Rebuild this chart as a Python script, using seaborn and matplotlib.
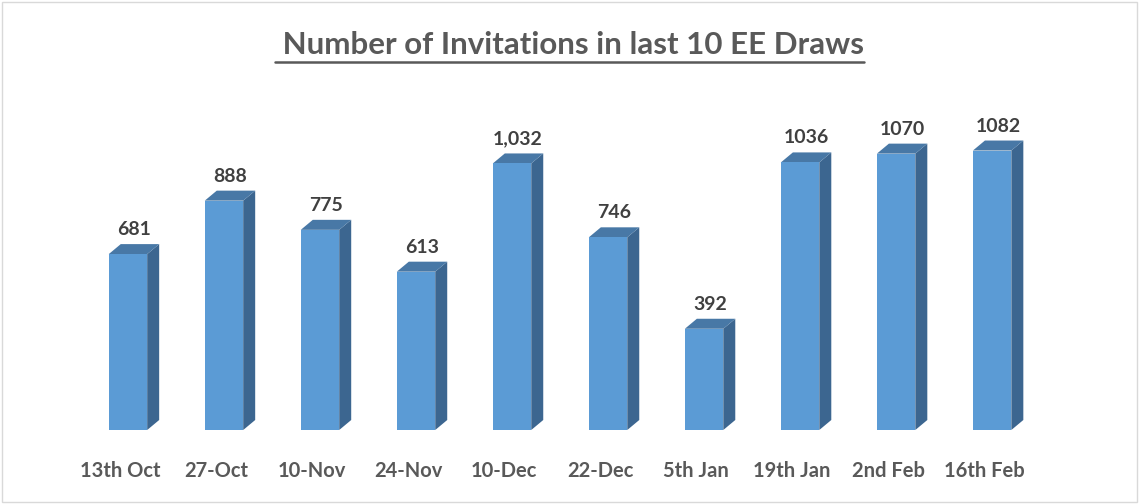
import matplotlib
matplotlib.use("Agg")
import matplotlib.pyplot as plt
import matplotlib.transforms as mtransforms
from matplotlib.patches import Polygon, Rectangle
from matplotlib.lines import Line2D
import seaborn as sns
import pandas as pd

# Chart data
draw_dates = ["13th Oct", "27-Oct", "10-Nov", "24-Nov", "10-Dec",
              "22-Dec", "5th Jan", "19th Jan", "2nd Feb", "16th Feb"]
invitations = [681, 888, 775, 613, 1032, 746, 392, 1036, 1070, 1082]
value_labels = ["681", "888", "775", "613", "1,032", "746", "392", "1036", "1070", "1082"]

FRONT = "#5B9BD5"
TOP = "#4878A6"
SIDE = "#3C6690"
TEXT = "#595959"
DEPTH_X, DEPTH_Y = 12, 10  # pixel offsets of the 3D depth

sns.set_theme(style="white")
plt.rcParams["font.family"] = ["Lato", "DejaVu Sans"]

df = pd.DataFrame({"date": draw_dates, "count": invitations})

fig = plt.figure(figsize=(11.39, 5.04), dpi=100)
ax = fig.add_axes([0.0702, 0.1468, 0.843, 0.615])
sns.barplot(data=df, x="date", y="count", color=FRONT, saturation=1,
            width=0.4, ax=ax, zorder=3, edgecolor="none", linewidth=0)
ax.set_xlim(-0.5, len(draw_dates) - 0.5)
ax.set_ylim(0, 1200)

# Depth faces (side + top) built from each bar patch
to_disp = ax.transData.transform
to_data = ax.transData.inverted().transform
for patch, label in zip(list(ax.patches), value_labels):
    x0, w, h = patch.get_x(), patch.get_width(), patch.get_height()
    (px0, py0), (px1, py1) = to_disp([(x0, 0), (x0 + w, h)])
    side = to_data([(px1, py0), (px1 + DEPTH_X, py0 + DEPTH_Y),
                    (px1 + DEPTH_X, py1 + DEPTH_Y), (px1, py1)])
    top = to_data([(px0, py1), (px0 + DEPTH_X, py1 + DEPTH_Y),
                   (px1 + DEPTH_X, py1 + DEPTH_Y), (px1, py1)])
    ax.add_patch(Polygon(side, closed=True, facecolor=SIDE, edgecolor="none", zorder=2))
    ax.add_patch(Polygon(top, closed=True, facecolor=TOP, edgecolor="none", zorder=2))
    lx, ly = to_data([((px0 + px1 + DEPTH_X) / 2, py1 + DEPTH_Y + 6)])[0]
    ax.text(lx, ly, label, ha="center", va="bottom", fontsize=14,
            fontweight="bold", color="#404040")

ax.set_xlabel("")
ax.set_ylabel("")
ax.set_yticks([])
ax.tick_params(axis="x", length=0, pad=22)
shift = mtransforms.ScaledTranslation(-8 / 100, 0, fig.dpi_scale_trans)
for t in ax.get_xticklabels():
    t.set_fontsize(14.5)
    t.set_fontweight("bold")
    t.set_color(TEXT)
    t.set_transform(t.get_transform() + shift)
sns.despine(ax=ax, left=True, bottom=True)

# Title with underline
title = fig.text(0.5, 0.892, " Number of Invitations in last 10 EE Draws",
                 ha="center", va="baseline", fontsize=22.5, fontweight="bold",
                 color=TEXT)
fig.canvas.draw()
bb = title.get_window_extent().transformed(fig.transFigure.inverted())
fig.add_artist(Line2D([bb.x0, bb.x1], [0.876, 0.876],
                      transform=fig.transFigure, color=TEXT, linewidth=1.8))

# Thin chart border
fig.add_artist(Rectangle((0.002, 0.003), 0.996, 0.994, transform=fig.transFigure,
                         fill=False, edgecolor="#D9D9D9", linewidth=1))

fig.savefig("out.png", dpi=100)
